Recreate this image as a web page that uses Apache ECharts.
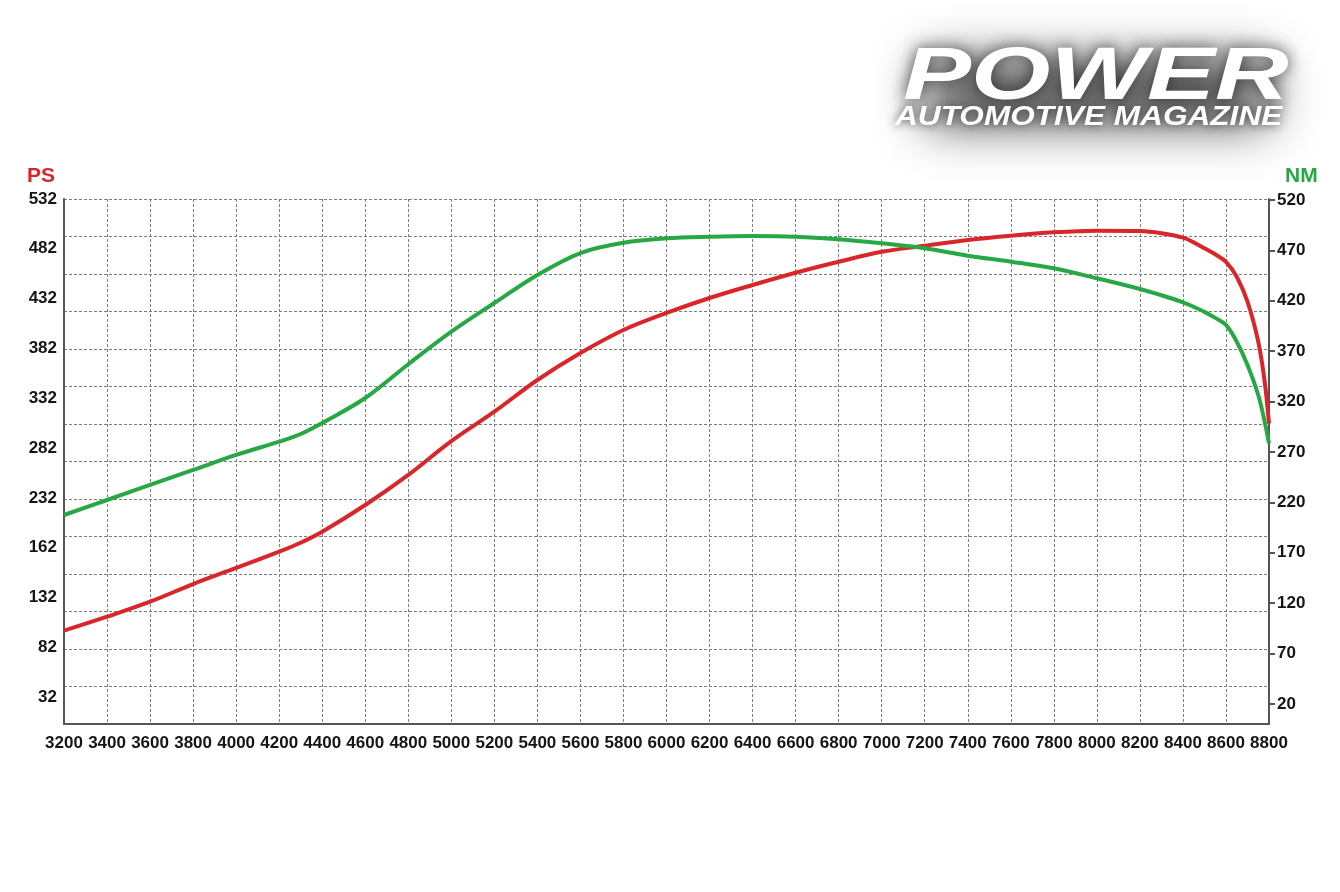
<!DOCTYPE html>
<html>
<head>
<meta charset="utf-8">
<script src="https://cdn.jsdelivr.net/npm/echarts@6/dist/echarts.min.js"></script>
<style>html,body{margin:0;padding:0;background:#fff}#c{width:1340px;height:892px}</style>
</head>
<body>
<div id="c"></div>
<script>
// ---- data ----
const rpm = [3200,3400,3600,3800,4000,4200,4300,4400,4600,4800,5000,5200,5400,5600,5800,6000,6200,6400,6600,6800,7000,7200,7400,7600,7800,8000,8200,8300,8400,8450,8500,8550,8600,8650,8700,8750,8780,8800];
const powerPS = [98.7,112.7,127.8,145.5,161.6,178,187,198,224.8,255,289,318.5,350.3,377.4,400.5,417.6,432.6,445.7,458,469,479,485,490.8,495.2,498.6,500.2,499.8,497.6,493.2,488.5,482.5,476.5,469,454,429,388.8,348.6,306.8];
const torqueNM = [207.4,222.3,237.2,252.1,267,280.2,287.8,298.7,323.5,357,389.3,417.8,445.6,467.4,477.6,482,483.6,484.3,483.6,481,477,472.1,464.7,458.8,452.2,442.3,431.7,425.5,418.5,414,409,403,396,379.4,356.3,326.5,300,278.6];
const psTickValues = [32,82,132,182,232,282,332,382,432,482,532];
const psTickLabels = ['32','82','132','162','232','282','332','382','432','482','532'];
const nmTickValues = [20,70,120,170,220,270,320,370,420,470,520];
const xTickInterval = 200;

const RED = '#d9262a', GREEN = '#27a844', AXIS = '#555', GRID = '#7d7d7d', TXT = '#151515';
const labelFont = { fontFamily: '"Liberation Sans Narrow", "Liberation Sans", sans-serif', fontWeight: 'bold', fontSize: 17, color: TXT };

const chart = echarts.init(document.getElementById('c'), null, { renderer: 'canvas' });
chart.setOption({
  animation: false,
  backgroundColor: '#fff',
  grid: { left: 64, right: 71, top: 199, bottom: 168, containLabel: false },
  xAxis: {
    type: 'value', min: 3200, max: 8800, interval: xTickInterval,
    axisLine: { lineStyle: { color: AXIS, width: 2 } },
    axisTick: { show: false },
    axisLabel: Object.assign({ margin: 11, formatter: v => String(v) }, labelFont),
    splitLine: { show: true, lineStyle: { color: GRID, type: [3, 2], width: 1 } }
  },
  yAxis: [
    {
      type: 'value', position: 'left', min: 5, max: 532,
      name: 'PS', nameLocation: 'end', nameGap: 12,
      nameTextStyle: { color: RED, fontFamily: '"Liberation Sans Narrow", sans-serif', fontWeight: 'bold', fontSize: 21, align: 'right', padding: [0, 9, 0, 0] },
      axisLine: { show: true, lineStyle: { color: AXIS, width: 2 } },
      axisTick: { show: false },
      axisLabel: Object.assign({
        margin: 7, customValues: psTickValues,
        formatter: v => { const i = psTickValues.indexOf(Math.round(v)); return i >= 0 ? psTickLabels[i] : ''; }
      }, labelFont),
      splitLine: { show: false }
    },
    {
      type: 'value', position: 'right', min: 0, max: 521,
      name: 'NM', nameLocation: 'end', nameGap: 12,
      nameTextStyle: { color: GREEN, fontFamily: '"Liberation Sans Narrow", sans-serif', fontWeight: 'bold', fontSize: 21, align: 'left', padding: [0, 0, 0, 16] },
      axisLine: { show: true, lineStyle: { color: AXIS, width: 2 } },
      axisTick: { show: true, customValues: nmTickValues, length: 6, lineStyle: { color: AXIS, width: 2 } },
      axisLabel: Object.assign({ margin: 8, customValues: nmTickValues }, labelFont),
      splitLine: { show: false }
    },
    {
      type: 'value', position: 'left', min: 0, max: 14, interval: 1,
      axisLine: { show: false }, axisTick: { show: false }, axisLabel: { show: false },
      splitLine: { show: true, lineStyle: { color: GRID, type: [3, 2], width: 1 } }
    }
  ],
  series: [
    {
      name: 'PS', type: 'line', yAxisIndex: 0, smooth: 0.35, symbol: 'none', z: 3,
      data: rpm.map((r, i) => [r, powerPS[i]]),
      lineStyle: { color: RED, width: 4 }
    },
    {
      name: 'NM', type: 'line', yAxisIndex: 1, smooth: 0.35, symbol: 'none', z: 4,
      data: rpm.map((r, i) => [r, torqueNM[i]]),
      lineStyle: { color: GREEN, width: 4 }
    }
  ],
  graphic: [
    {
      // soft grey halo behind the logo (shape kept off-canvas, only its shadow shows)
      type: 'rect', z: 5, silent: true,
      shape: { x: 925, y: 60 - 2000, width: 345, height: 66, r: 12 },
      style: { fill: '#000', shadowBlur: 48, shadowColor: 'rgba(80,80,80,0.95)', shadowOffsetX: 0, shadowOffsetY: 2000 }
    },
    {
      type: 'text', x: 903, y: 79, scaleX: 1.38, z: 10,
      style: {
        text: 'POWER', font: 'italic bold 74px "Liberation Sans", sans-serif',
        fill: '#ffffff', align: 'left', verticalAlign: 'middle',
        textShadowColor: 'rgba(20,20,20,0.75)', textShadowBlur: 16
      }
    },
    {
      type: 'text', x: 895, y: 118, scaleX: 1.17, z: 10,
      style: {
        text: 'AUTOMOTIVE MAGAZINE', font: 'italic bold 27px "Liberation Sans", sans-serif',
        fill: '#ffffff', align: 'left', verticalAlign: 'middle',
        textShadowColor: 'rgba(20,20,20,0.75)', textShadowBlur: 10
      }
    }
  ]
});
</script>
</body>
</html>
